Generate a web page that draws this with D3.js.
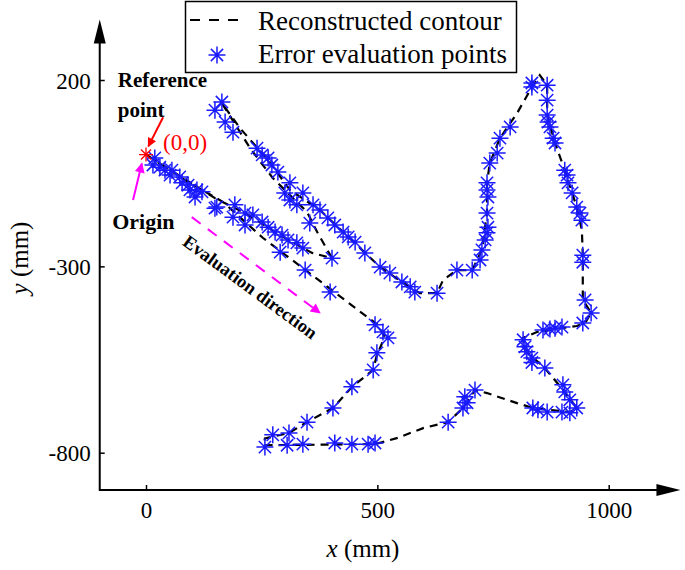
<!DOCTYPE html>
<html>
<head>
<meta charset="utf-8">
<script src="https://cdn.jsdelivr.net/npm/d3@7"></script>
<style>
  body { margin: 0; background: #fff; }
  svg text { font-family: "Liberation Serif", "Times New Roman", serif !important; }
</style>
</head>
<body>
<div id="chart"></div>
<script>
// tick values
const xTicks = [0, 500, 1000]
const yTicks = [200, -300, -800]

// reconstructed contour (mm)
const contour = [
  [0,0],[84,-68],[166,-127],[253,-224],[333,-299],[458,-417],[501,-457],[516,-490],
  [499,-538],[491,-578],[445,-624],[404,-680],[348,-718],[309,-747],[257,-762],[254,-780],
  [495,-777],[542,-761],[599,-734],[653,-718],[685,-680],[711,-632],[737,-640],[802,-667],
  [836,-680],[916,-691],[931,-680],[905,-637],[862,-573],[819,-525],[815,-492],[845,-476],
  [931,-460],[949,-452],[962,-425],[944,-390],[944,-270],[942,-203],[931,-141],[905,-42],
  [884,31],[867,106],[867,186],[851,213],[834,181],[802,111],[765,44],[743,-23],
  [737,-76],[737,-157],[726,-256],[705,-310],[672,-310],[642,-337],[629,-372],[592,-372],
  [553,-342],[506,-302],[437,-221],[376,-149],[311,-95],[264,-15],[203,71],[164,138],
  [225,17],[274,-63],[348,-154],[370,-208],[402,-278],[359,-264],[296,-221],[214,-157],
  [149,-117],[0,0]
]

// error evaluation points (mm)
const evalPoints = [
  [19,-9],[15,-28],[30,-34],[41,-42],[56,-42],[52,-55],[73,-60],[78,-76],[91,-82],[95,-95],
  [110,-95],[121,-100],[106,-114],[153,-141],[149,-144],
  [192,-135],[188,-168],[214,-157],[214,-189],[231,-162],[251,-181],[264,-195],[279,-208],
  [294,-216],[307,-229],[326,-237],[339,-251],
  [290,-262],[344,-310],[398,-369],[402,-278],[354,-184],
  [164,141],[149,119],[171,87],[188,60],[240,17],[251,-1],[264,-9],[272,-28],[285,-47],
  [311,-76],[300,-103],[339,-103],[311,-122],[326,-135],[361,-135],[376,-149],[393,-170],
  [408,-189],[426,-208],[437,-221],[452,-235],[473,-264],[506,-302],[527,-318],[553,-342],
  [571,-355],[581,-369],[629,-372],[672,-310],[705,-310],
  [495,-457],[512,-476],[523,-492],[499,-532],[491,-578],[445,-623],[404,-680],[348,-718],
  [309,-747],[274,-752],[257,-785],[305,-780],[339,-777],[408,-774],[445,-777],[480,-777],
  [495,-774],
  [653,-718],[685,-680],[694,-666],[689,-650],[711,-632],[836,-680],[847,-685],[867,-691],
  [899,-691],[916,-693],[931,-680],[916,-658],[905,-637],[901,-618],[862,-573],[834,-558],
  [815,-497],[819,-516],[823,-529],[834,-546],[858,-471],[873,-468],[884,-466],[899,-463],
  [944,-452],[962,-425],[949,-390],[944,-289],[944,-270],
  [938,-157],[942,-176],[931,-141],[921,-103],[912,-76],[910,-55],[905,-42],[884,31],
  [880,44],[873,74],[869,87],[867,106],[867,146],[867,186],[834,181],[834,192],[787,74],
  [765,44],[759,4],[743,-23],[737,-76],[737,-95],[739,-114],[737,-157],[739,-195],
  [737,-210],[733,-229],[726,-256],[722,-283]
]

const origin = [0, 0]

const width = 685, height = 570

const x = d3.scaleLinear().domain([0, 1000]).range([146, 608.7])
const y = d3.scaleLinear().domain([200, -800]).range([80, 452.7])
const xMin = -100, xMax = 1155, yMin = -900, yMax = 362

const svg = d3.select('#chart')
  .append('svg')
  .attr('width', width)
  .attr('height', height)

const blue = '#1a1aff'

function star(r) {
  const k = r * 0.72
  return `M${-r},0L${r},0M0,${-r}L0,${r}M${-k},${-k}L${k},${k}M${-k},${k}L${k},${-k}`
}

// axes
const fmt = d => String(d)
const xAxis = svg.append('g')
  .attr('transform', `translate(0,${y(yMin)})`)
  .call(d3.axisBottom(x).tickValues(xTicks).tickFormat(fmt)
    .tickSizeInner(-5).tickSizeOuter(0).tickPadding(12))
const yAxis = svg.append('g')
  .attr('transform', `translate(${x(xMin)},0)`)
  .call(d3.axisLeft(y).tickValues(yTicks).tickFormat(fmt)
    .tickSizeInner(-5).tickSizeOuter(0).tickPadding(9))

for (const g of [xAxis, yAxis]) {
  g.attr('font-family', null).attr('font-size', null)
  g.select('.domain').remove()
  g.selectAll('.tick line').attr('stroke', '#000').attr('stroke-width', 1.5)
  g.selectAll('.tick text')
    .attr('font-size', 23)
    .attr('fill', '#000')
}
yAxis.selectAll('.tick text').attr('dy', '0.35em')

// axis lines with arrows
svg.append('line')
  .attr('x1', x(xMin)).attr('y1', y(yMin))
  .attr('x2', x(xMax) - 20).attr('y2', y(yMin))
  .attr('stroke', '#000').attr('stroke-width', 2)
svg.append('path')
  .attr('d', `M${x(xMax)},${y(yMin)}l-24,-6l0,12z`)
  .attr('fill', '#000')
svg.append('line')
  .attr('x1', x(xMin)).attr('y1', y(yMin) + 1)
  .attr('x2', x(xMin)).attr('y2', y(yMax) + 20)
  .attr('stroke', '#000').attr('stroke-width', 2)
svg.append('path')
  .attr('d', `M${x(xMin)},${y(yMax)}l-6,24l12,0z`)
  .attr('fill', '#000')

// axis titles
svg.append('text')
  .attr('x', 363).attr('y', 557)
  .attr('text-anchor', 'middle')
  .attr('font-size', 25)
  .html('<tspan font-style="italic">x</tspan> (mm)')
svg.append('text')
  .attr('transform', 'translate(28,258) rotate(-90)')
  .attr('text-anchor', 'middle')
  .attr('font-size', 25)
  .html('<tspan font-style="italic">y</tspan> (mm)')

// contour
const line = d3.line().x(d => x(d[0])).y(d => y(d[1]))
svg.append('path')
  .datum(contour)
  .attr('d', line)
  .attr('fill', 'none')
  .attr('stroke', '#000')
  .attr('stroke-width', 2.2)
  .attr('stroke-dasharray', '8,6')

// evaluation points
svg.append('g')
  .selectAll('path')
  .data(evalPoints)
  .join('path')
  .attr('transform', d => `translate(${x(d[0])},${y(d[1])})`)
  .attr('d', star(8.5))
  .attr('fill', 'none')
  .attr('stroke', blue)
  .attr('stroke-width', 1.5)

// reference point
svg.append('path')
  .attr('transform', `translate(${x(origin[0])},${y(origin[1])})`)
  .attr('d', star(7))
  .attr('fill', 'none')
  .attr('stroke', '#ff0000')
  .attr('stroke-width', 1.3)

svg.append('text')
  .attr('x', x(37)).attr('y', y(12))
  .attr('fill', '#ff0000')
  .attr('font-size', 23)
  .text('(0,0)')

// annotations
const defs = svg.append('defs')
function head(id, color, w, h) {
  defs.append('marker')
    .attr('id', id)
    .attr('viewBox', '0 0 10 10')
    .attr('refX', 9).attr('refY', 5)
    .attr('markerWidth', w).attr('markerHeight', h)
    .attr('markerUnits', 'userSpaceOnUse')
    .attr('orient', 'auto')
    .append('path')
    .attr('d', 'M0,0L10,5L0,10z')
    .attr('fill', color)
}
head('redHead', '#ff0000', 12, 9)
head('magHead', '#ff00ff', 13, 10)

svg.append('line')
  .attr('x1', x(37)).attr('y1', y(100))
  .attr('x2', x(5)).attr('y2', y(22))
  .attr('stroke', '#ff0000').attr('stroke-width', 2)
  .attr('marker-end', 'url(#redHead)')

svg.append('line')
  .attr('x1', x(-28)).attr('y1', y(-122))
  .attr('x2', x(-9)).attr('y2', y(-24))
  .attr('stroke', '#ff00ff').attr('stroke-width', 2)
  .attr('marker-end', 'url(#magHead)')

svg.append('line')
  .attr('x1', x(99)).attr('y1', y(-168))
  .attr('x2', x(376)).attr('y2', y(-425))
  .attr('stroke', '#ff00ff').attr('stroke-width', 2)
  .attr('stroke-dasharray', '11,9')
  .attr('marker-end', 'url(#magHead)')

svg.append('text')
  .attr('x', x(-61)).attr('y', y(181))
  .attr('font-size', 21).attr('font-weight', 'bold')
  .text('Reference')
svg.append('text')
  .attr('x', x(-61)).attr('y', y(101))
  .attr('font-size', 21).attr('font-weight', 'bold')
  .text('point')
svg.append('text')
  .attr('x', x(-73)).attr('y', y(-200))
  .attr('font-size', 22).attr('font-weight', 'bold')
  .text('Origin')
svg.append('text')
  .attr('transform', `translate(${x(225)},${y(-356)}) rotate(36.3)`)
  .attr('text-anchor', 'middle')
  .attr('dominant-baseline', 'central')
  .attr('font-size', 18.5).attr('font-weight', 'bold')
  .text('Evaluation direction')

// legend
const legend = svg.append('g')
legend.append('rect')
  .attr('x', 185.5).attr('y', 1.5)
  .attr('width', 331).attr('height', 71)
  .attr('fill', '#fff').attr('stroke', '#000').attr('stroke-width', 1.5)
legend.append('line')
  .attr('x1', 190).attr('y1', 20).attr('x2', 246).attr('y2', 20)
  .attr('stroke', '#000').attr('stroke-width', 2)
  .attr('stroke-dasharray', '10,9')
legend.append('path')
  .attr('transform', 'translate(217,55)')
  .attr('d', star(8.5))
  .attr('fill', 'none')
  .attr('stroke', blue)
  .attr('stroke-width', 1.5)
legend.append('text')
  .attr('x', 258).attr('y', 30)
  .attr('font-size', 27)
  .text('Reconstructed contour')
legend.append('text')
  .attr('x', 258).attr('y', 63)
  .attr('font-size', 27)
  .text('Error evaluation points')
</script>
</body>
</html>
